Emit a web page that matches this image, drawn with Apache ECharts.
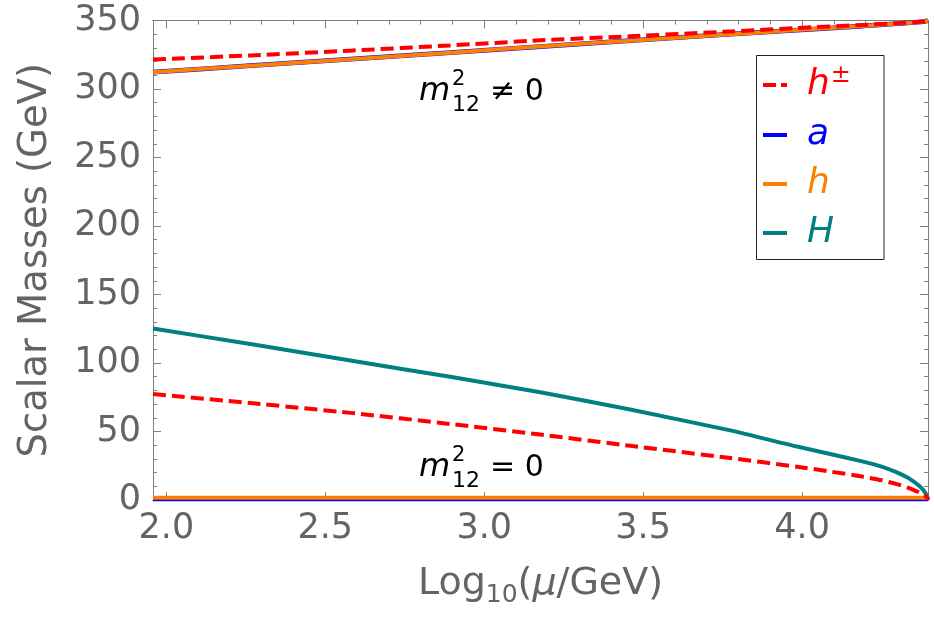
<!DOCTYPE html>
<html>
<head>
<meta charset="utf-8">
<script src="https://cdn.jsdelivr.net/npm/echarts@6/dist/echarts.min.js"></script>
<style>html,body{margin:0;padding:0;background:#fff;}#chart{width:934px;height:626px;}</style>
</head>
<body>
<div id="chart"></div>
<script>
// ---- data ----
// m12^2 != 0 branch
const xTop   = [1.958, 2.264, 2.579, 2.893, 3.176, 3.459, 3.774, 3.984, 4.192, 4.298, 4.350, 4.387, 4.396];
const hpmTop = [321.5, 324.5, 328.0, 331.8, 335.5, 338.5, 342.0, 344.5, 346.8, 348.0, 348.8, 349.5, 350.0];
const hTop   = [312.3, 317.0, 321.8, 326.5, 331.0, 335.3, 340.0, 343.0, 346.0, 347.7, 348.6, 349.4, 350.0];
const aTop   = [312.3, 317.0, 321.8, 326.5, 331.0, 335.3, 340.0, 343.0, 346.0, 347.7, 348.6, 349.4, 350.0];
// m12^2 = 0 branch
const xBot   = [1.958, 2.264, 2.579, 2.893, 3.176, 3.459, 3.774, 3.984, 4.088, 4.192, 4.250, 4.298, 4.330, 4.350, 4.368, 4.380, 4.388, 4.393, 4.396];
const HBot   = [125.2, 113.8, 101.8, 89.9, 78.6, 66.0, 50.8, 39.0, 33.6, 28.0, 24.4, 20.2, 16.6, 13.6, 10.4, 7.6, 5.0, 3.0, 0.0];
const hpmBot = [77.4, 70.8, 63.6, 55.5, 47.8, 39.6, 30.6, 24.3, 20.8, 17.0, 14.4, 11.6, 9.2, 7.4, 5.6, 4.2, 3.0, 1.9, 0.0];
const xFlat  = [1.958, 4.396];
const hBot   = [1.7, 1.7];
const aBot   = [0.0, 0.0];
// ticks
const xMajor = [2.0, 2.5, 3.0, 3.5, 4.0];
const xMinor = [2.1, 2.2, 2.3, 2.4, 2.6, 2.7, 2.8, 2.9, 3.1, 3.2, 3.3, 3.4, 3.6, 3.7, 3.8, 3.9, 4.1, 4.2, 4.3];
const yMajor = [0, 50, 100, 150, 200, 250, 300, 350];
const yMinor = [10, 20, 30, 40, 60, 70, 80, 90, 110, 120, 130, 140, 160, 170, 180, 190, 210, 220, 230, 240, 260, 270, 280, 290, 310, 320, 330, 340];
const names = ['h±', 'a', 'h', 'H'];

const C = {hpm: '#ff0000', a: '#0000ff', h: '#ff8000', H: '#008080'};
const FRAME = '#808080';
const LABEL = '#646464';
const FONT = 'DejaVu Sans';
const XMIN = 1.958, XMAX = 4.396, YMIN = 0, YMAX = 350;

const pairs = (xs, ys) => xs.map((x, i) => [x, ys[i]]);

function xAx(pos, ticks, len, labels) {
  return {
    type: 'value', min: XMIN, max: XMAX, position: pos,
    axisLine: {show: true, onZero: false, lineStyle: {color: FRAME, width: 1}},
    axisTick: {show: true, inside: true, length: len, customValues: ticks, lineStyle: {color: FRAME, width: 1}},
    axisLabel: labels ? {show: true, customValues: ticks, formatter: v => v.toFixed(1), fontFamily: FONT, fontSize: 35, color: LABEL, margin: 11} : {show: false},
    splitLine: {show: false}
  };
}
function yAx(pos, ticks, len, labels) {
  return {
    type: 'value', min: YMIN, max: YMAX, position: pos,
    axisLine: {show: true, onZero: false, lineStyle: {color: FRAME, width: 1}},
    axisTick: {show: true, inside: true, length: len, customValues: ticks, lineStyle: {color: FRAME, width: 1}},
    axisLabel: labels ? {show: true, customValues: ticks, fontFamily: FONT, fontSize: 35, color: LABEL, margin: 12} : {show: false},
    splitLine: {show: false}
  };
}

const xAxes = [xAx('bottom', xMajor, 8, true), xAx('bottom', xMinor, 4, false), xAx('top', xMajor, 8, false), xAx('top', xMinor, 4, false)];
xAxes[0].name = '{n|Log}{s|10}{n|(}{i|μ}{n|/GeV)}';
xAxes[0].nameLocation = 'middle';
xAxes[0].nameGap = 61;
xAxes[0].nameTextStyle = {
  fontFamily: FONT, color: LABEL,
  rich: {
    n: {fontFamily: FONT, fontSize: 38, color: LABEL},
    i: {fontFamily: FONT, fontSize: 38, color: LABEL, fontStyle: 'italic'},
    s: {fontFamily: FONT, fontSize: 25, color: LABEL, padding: [22, 0, 0, 0]}
  }
};
const yAxes = [yAx('left', yMajor, 8, true), yAx('left', yMinor, 4, false), yAx('right', yMajor, 8, false), yAx('right', yMinor, 4, false)];
yAxes[0].name = 'Scalar Masses (GeV)';
yAxes[0].nameLocation = 'middle';
yAxes[0].nameGap = 98;
yAxes[0].nameTextStyle = {fontFamily: FONT, fontSize: 38.5, color: LABEL};

function line(name, data, color, dashed, z, clip) {
  return {
    type: 'line', name, data, xAxisIndex: 0, yAxisIndex: 0,
    showSymbol: false, symbol: 'none', smooth: 0.2,
    clip: clip !== false, z,
    lineStyle: {color, width: 4, type: dashed ? [13, 6] : 'solid', cap: 'butt'},
    itemStyle: {color},
    emphasis: {disabled: true}, animation: false
  };
}

const series = [
  line('a', pairs(xFlat, aBot), C.a, false, 2, false),
  line('a', pairs(xTop, aTop), C.a, false, 2),
  line('h', pairs(xTop, hTop), C.h, false, 3),
  line('h', pairs(xFlat, hBot), C.h, false, 3),
  line('H', pairs(xBot, HBot), C.H, false, 4),
  line('h±', pairs(xTop, hpmTop), C.hpm, true, 5),
  line('h±', pairs(xBot, hpmBot), C.hpm, true, 5)
];
series[0].lineStyle.width = 2.5;
series[1].lineStyle.width = 4.8;

const mathFont = (size, italic) => (italic ? 'italic ' : '') + size + 'px "' + FONT + '"';
function annot(dy, rel) {
  return [
    {type: 'text', x: 419, y: 92 + dy, style: {text: 'm', font: mathFont(32, true), fill: '#000', verticalAlign: 'middle'}},
    {type: 'text', x: 452, y: 80 + dy, style: {text: '2', font: mathFont(21), fill: '#000', verticalAlign: 'middle'}},
    {type: 'text', x: 452, y: 105 + dy, style: {text: '12', font: mathFont(22), fill: '#000', verticalAlign: 'middle'}},
    {type: 'text', x: 490, y: 92 + dy, style: {text: rel + ' 0', font: mathFont(30), fill: '#000', verticalAlign: 'middle'}}
  ];
}

const dashIcon = 'path://M0,0H13V4H0Z M18,0H24V4H18Z';
const option = {
  backgroundColor: '#fff',
  animation: false,
  grid: {left: 153, right: 6, top: 20.5, bottom: 126, containLabel: false, outerBoundsMode: 'none'},
  xAxis: xAxes,
  yAxis: yAxes,
  legend: {
    orient: 'vertical', left: 763, top: 64, padding: 0, z: 6,
    itemWidth: 24, itemHeight: 4, itemGap: 9, symbolKeepAspect: false,
    data: [
      {name: 'h±', icon: dashIcon},
      {name: 'a', icon: 'rect'},
      {name: 'h', icon: 'rect'},
      {name: 'H', icon: 'rect'}
    ],
    selectedMode: false,
    formatter: n => n === 'h±' ? '{hp|h}{sp|±}' : n === 'a' ? '{a|a}' : n === 'h' ? '{h|h}' : '{H|H}',
    textStyle: {
      fontFamily: FONT, fontSize: 36, lineHeight: 40,
      rich: {
        hp: {fontFamily: FONT, fontSize: 36, fontStyle: 'italic', color: C.hpm, lineHeight: 40, padding: [0, 0, 0, 15]},
        sp: {fontFamily: FONT, fontSize: 24, color: C.hpm, lineHeight: 40, padding: [0, 0, 18, 1]},
        a: {fontFamily: FONT, fontSize: 36, fontStyle: 'italic', color: C.a, lineHeight: 40, padding: [0, 0, 0, 15]},
        h: {fontFamily: FONT, fontSize: 36, fontStyle: 'italic', color: C.h, lineHeight: 40, padding: [0, 0, 0, 15]},
        H: {fontFamily: FONT, fontSize: 36, fontStyle: 'italic', color: C.H, lineHeight: 40, padding: [0, 0, 0, 15]}
      }
    }
  },
  graphic: [
    {type: 'rect', z: 5, shape: {x: 756.5, y: 55.5, width: 127.5, height: 204}, style: {fill: '#fff', stroke: '#222', lineWidth: 1}},
    ...annot(0, '≠'),
    ...annot(376, '=')
  ],
  series
};

const chart = echarts.init(document.getElementById('chart'), null, {renderer: 'canvas'});
chart.setOption(option);
</script>
</body>
</html>
